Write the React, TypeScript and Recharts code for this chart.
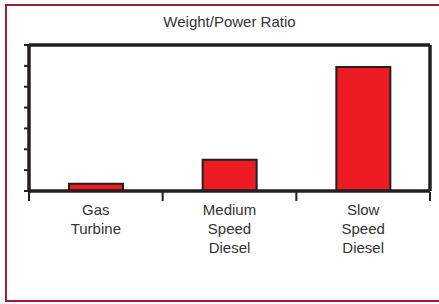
import { BarChart, Bar, XAxis, YAxis } from 'recharts';

const categories = ['Gas Turbine', 'Medium Speed Diesel', 'Slow Speed Diesel'];
const ratios = [0.35, 1.5, 5.95];
const yTicks = [0, 1, 2, 3, 4, 5, 6, 7];
const edgeTicks = [0, 1, 2, 3];

const data = categories.map((name, i) => ({ name, ratio: ratios[i] }));

const INK = '#231f20';
const FONT = '"Liberation Sans", Arial, Helvetica, sans-serif';

function CategoryTick(props: any) {
  const { x, y, payload } = props;
  const words: string[] = String(payload.value).split(' ');
  return (
    <text x={x} y={y + 24} textAnchor="middle" fill="#333" fontSize={15} fontFamily={FONT}>
      {words.map((w, i) => (
        <tspan key={w + i} x={x} dy={i === 0 ? 0 : 19}>
          {w}
        </tspan>
      ))}
    </text>
  );
}

export default function App() {
  return (
    <div
      style={{
        position: 'absolute',
        left: 0,
        top: 0,
        width: 439,
        height: 304,
        overflow: 'hidden',
        background: '#fff',
      }}
    >
      <div
        style={{
          position: 'absolute',
          left: 5,
          top: 4,
          width: 460,
          height: 298,
          boxSizing: 'border-box',
          border: '2.5px solid #a6192e',
        }}
      />
      <div
        style={{
          position: 'absolute',
          left: 29,
          width: 401,
          top: 13,
          textAlign: 'center',
          fontFamily: FONT,
          fontSize: 15,
          lineHeight: '17px',
          color: '#333',
        }}
      >
        Weight/Power Ratio
      </div>
      <div style={{ position: 'absolute', left: 0, top: 0 }}>
        <BarChart
          width={439}
          height={304}
          data={data}
          margin={{ top: 44, right: 8, bottom: 111, left: 0 }}
        >
          <XAxis
            xAxisId="edges"
            type="number"
            dataKey="pos"
            domain={[0, 3]}
            ticks={edgeTicks}
            allowDataOverflow
            height={1}
            axisLine={false}
            tickLine={{ stroke: INK, strokeWidth: 2 }}
            tickSize={9}
            tickFormatter={() => ''}
          />
          <XAxis
            xAxisId="cat"
            dataKey="name"
            height={1}
            axisLine={{ stroke: INK, strokeWidth: 3.5 }}
            tickLine={false}
            tickSize={0}
            tickMargin={0}
            interval={0}
            tick={<CategoryTick />}
          />
          <XAxis
            xAxisId="top"
            orientation="top"
            type="number"
            dataKey="pos"
            domain={[0, 1]}
            allowDataOverflow
            height={1}
            axisLine={{ stroke: INK, strokeWidth: 3.5 }}
            tick={false}
            tickLine={false}
          />
          <YAxis
            yAxisId="left"
            width={29}
            domain={[0, 7]}
            ticks={yTicks}
            interval={0}
            axisLine={{ stroke: INK, strokeWidth: 3.5 }}
            tickLine={{ stroke: INK, strokeWidth: 2 }}
            tickSize={5}
            tickFormatter={() => ''}
          />
          <YAxis
            yAxisId="right"
            orientation="right"
            width={1}
            domain={[0, 7]}
            allowDataOverflow
            axisLine={{ stroke: INK, strokeWidth: 3.5 }}
            tick={false}
            tickLine={false}
          />
          <Bar
            xAxisId="cat"
            yAxisId="left"
            dataKey="ratio"
            barSize={54}
            fill="#ed1c24"
            stroke={INK}
            strokeWidth={2}
            isAnimationActive={false}
          />
        </BarChart>
      </div>
    </div>
  );
}
